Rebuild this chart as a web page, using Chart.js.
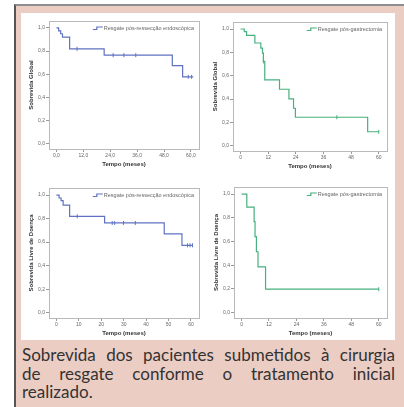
<!DOCTYPE html>
<html lang="pt">
<head>
<meta charset="utf-8">
<title>Sobrevida - cirurgia de resgate</title>
<script src="https://cdn.jsdelivr.net/npm/chart.js@4.4.1/dist/chart.umd.min.js"></script>
<style>
  html, body { margin: 0; padding: 0; background: #fff; }
  body { width: 404px; height: 407px; position: relative; overflow: hidden; }
  #moldura {
    position: absolute; left: 14px; top: 4px; width: 390px; height: 403px;
    background: #eccdc3; border-left: 2px solid #555; border-top: 2px solid #8e8e8e;
    box-sizing: border-box;
  }
  #painel { position: absolute; left: 21px; top: 13px; width: 374px; height: 327px; background: #fff; }
  .graf { position: absolute; }
  #legenda {
    position: absolute; left: 22px; top: 346px; width: 373px;
    font-family: Lato, "Open Sans", sans-serif; font-size: 17px; line-height: 18.5px; color: #333;
  }
  #legenda div { white-space: nowrap; }
  #legenda .just { text-align: justify; text-align-last: justify; }
</style>
</head>
<body>
<div id="moldura"></div>
<div id="painel"></div>
<canvas id="g1" class="graf"></canvas>
<canvas id="g2" class="graf"></canvas>
<canvas id="g3" class="graf"></canvas>
<canvas id="g4" class="graf"></canvas>
<div id="legenda">
  <div class="just">Sobrevida dos pacientes submetidos à cirurgia</div>
  <div class="just">de resgate conforme o tratamento inicial</div>
  <div>realizado.</div>
</div>

<script>
// Sobrevida global - resgate pós-ressecção endoscópica
const tempoSG_end = [0, 1.0, 1.9, 2.7, 5.9, 21.3, 51.7, 56.3, 61.0];
const survSG_end = [1.0, 0.974, 0.95, 0.92, 0.82, 0.765, 0.675, 0.578, 0.578];
const censTSG_end = [9.2, 25.3, 30.1, 35.4, 58.8, 60.3];
const censVSG_end = [0.82, 0.765, 0.765, 0.765, 0.578, 0.578];

// Sobrevida global - resgate pós-gastrectomia
const tempoSG_gas = [0, 1.6, 2.6, 6.2, 8.8, 9.5, 9.9, 10.5, 16.9, 21.0, 23.0, 23.8, 55.2, 60.0];
const survSG_gas = [1.0, 0.977, 0.946, 0.88, 0.837, 0.794, 0.722, 0.564, 0.484, 0.401, 0.321, 0.244, 0.12, 0.12];
const censTSG_gas = [9.9, 41.8, 60.0];
const censVSG_gas = [0.722, 0.244, 0.12];

// Sobrevida livre de doença - resgate pós-ressecção endoscópica
const tempoSLD_end = [0, 1.2, 2.1, 3.0, 5.9, 21.5, 48.1, 56.0, 60.7];
const survSLD_end = [1.0, 0.975, 0.952, 0.915, 0.819, 0.763, 0.67, 0.573, 0.573];
const censTSLD_end = [9.3, 24.9, 26.0, 29.9, 35.2, 58.5, 59.6, 60.7];
const censVSLD_end = [0.819, 0.763, 0.763, 0.763, 0.763, 0.573, 0.573, 0.573];

// Sobrevida livre de doença - resgate pós-gastrectomia
const tempoSLD_gas = [0, 2.3, 5.5, 5.9, 6.5, 7.2, 10.5, 60.0];
const survSLD_gas = [1.0, 0.89, 0.768, 0.641, 0.514, 0.387, 0.198, 0.198];
const censTSLD_gas = [60.0];
const censVSLD_gas = [0.198];

// ticks
const yTicks = [0, 0.2, 0.4, 0.6, 0.8, 1.0];
const xTicks12 = [0, 12, 24, 36, 48, 60];
const xTicks10 = [0, 10, 20, 30, 40, 50, 60];

const azul = "#5f72c2";
const verde = "#46b07e";

// moldura cinza em volta da área do gráfico (estilo SPSS)
const caixaPlugin = {
  id: "caixa",
  afterDraw(chart) {
    const a = chart.chartArea;
    const ctx = chart.ctx;
    ctx.save();
    ctx.strokeStyle = "#b9b9b9";
    ctx.lineWidth = 1;
    ctx.strokeRect(Math.round(a.left) + 0.5, Math.round(a.top) + 0.5,
      Math.round(a.right - a.left), Math.round(a.bottom - a.top));
    ctx.restore();
  }
};

// legenda no canto superior direito, dentro da área do gráfico
const legendaPlugin = {
  id: "legendaSPSS",
  afterDraw(chart) {
    const a = chart.chartArea;
    const ctx = chart.ctx;
    const ds = chart.data.datasets[0];
    ctx.save();
    ctx.font = "5.5px 'Liberation Sans'";
    ctx.fillStyle = "#666";
    ctx.textBaseline = "middle";
    const tw = ctx.measureText(ds.label).width;
    const xt = a.right - 5 - tw;
    const y = a.top + 7;
    ctx.fillText(ds.label, xt, y);
    // amostra em degrau
    ctx.strokeStyle = ds.borderColor;
    ctx.lineWidth = 1.2;
    ctx.beginPath();
    ctx.moveTo(xt - 11, y + 1.5);
    ctx.lineTo(xt - 7, y + 1.5);
    ctx.lineTo(xt - 7, y - 1);
    ctx.lineTo(xt - 1, y - 1);
    ctx.stroke();
    ctx.restore();
  }
};

function montaGrafico(id, area, tempos, surv, censT, censV, cor, rotulo, tituloY, xTicks, fmtX) {
  const canvas = document.getElementById(id);
  const esq = 25, dir = 4, topo = 7, baixo = 22;
  const w = area.right - area.left + esq + dir;
  const h = area.bottom - area.top + topo + baixo;
  canvas.style.left = (area.left - esq) + "px";
  canvas.style.top = (area.top - topo) + "px";
  canvas.style.width = w + "px";
  canvas.style.height = h + "px";
  canvas.width = w;
  canvas.height = h;

  new Chart(canvas.getContext("2d"), {
    type: "line",
    data: {
      datasets: [{
        label: rotulo,
        data: tempos.map((t, i) => ({ x: t, y: surv[i] })),
        borderColor: cor,
        backgroundColor: cor,
        borderWidth: 1.2,
        stepped: true,
        pointRadius: 0,
        fill: false
      }, {
        label: "censurado",
        data: censT.map((t, i) => ({ x: t, y: censV[i] })),
        showLine: false,
        borderColor: cor,
        backgroundColor: cor,
        pointStyle: "line",
        rotation: 90,
        pointRadius: 2,
        borderWidth: 1
      }]
    },
    options: {
      responsive: false,
      animation: false,
      devicePixelRatio: 1,
      layout: { padding: { top: topo, right: dir, left: 0, bottom: 0 } },
      plugins: {
        tooltip: { enabled: false },
        legend: { display: false }
      },
      scales: {
        x: {
          type: "linear",
          min: -3.3,
          max: 63.6,
          afterFit: s => { s.height = baixo; },
          afterBuildTicks: s => { s.ticks = xTicks.map(v => ({ value: v })); },
          grid: { display: true, drawOnChartArea: false, tickLength: 3, color: "#999" },
          border: { color: "#b9b9b9" },
          ticks: {
            padding: 1,
            color: "#666",
            font: { size: 5, family: "Liberation Sans" },
            callback: v => fmtX(v)
          },
          title: {
            display: true,
            text: "Tempo (meses)",
            color: "#333",
            padding: { top: 1, bottom: 3 },
            font: { size: 6, weight: "bold", family: "Liberation Sans" }
          }
        },
        y: {
          type: "linear",
          min: -0.045,
          max: 1.06,
          afterFit: s => { s.width = esq; },
          afterBuildTicks: s => { s.ticks = yTicks.map(v => ({ value: v })); },
          grid: { display: true, drawOnChartArea: false, tickLength: 3, color: "#999" },
          border: { color: "#b9b9b9" },
          ticks: {
            padding: 1,
            color: "#666",
            font: { size: 5, family: "Liberation Sans" },
            callback: v => v.toFixed(1).replace(".", ",")
          },
          title: {
            display: true,
            text: tituloY,
            color: "#333",
            padding: { top: 4, bottom: 1 },
            font: { size: 6, weight: "bold", family: "Liberation Sans" }
          }
        }
      }
    },
    plugins: [caixaPlugin, legendaPlugin]
  });
}

document.addEventListener("DOMContentLoaded", function () {
  const fmtDec = v => v.toFixed(1).replace(".", ",");
  const fmtInt = v => String(v);

  montaGrafico("g1", { left: 49, right: 200, top: 21, bottom: 149 },
    tempoSG_end, survSG_end, censTSG_end, censVSG_end, azul,
    "Resgate pós-ressecção endoscópica", "Sobrevida Global", xTicks12, fmtDec);

  montaGrafico("g2", { left: 233, right: 388, top: 22, bottom: 151 },
    tempoSG_gas, survSG_gas, censTSG_gas, censVSG_gas, verde,
    "Resgate pós-gastrectomia", "Sobrevida Global", xTicks12, fmtInt);

  montaGrafico("g3", { left: 49, right: 200, top: 188, bottom: 318 },
    tempoSLD_end, survSLD_end, censTSLD_end, censVSLD_end, azul,
    "Resgate pós-ressecção endoscópica", "Sobrevida Livre de Doença", xTicks10, fmtInt);

  montaGrafico("g4", { left: 234, right: 388, top: 187, bottom: 318 },
    tempoSLD_gas, survSLD_gas, censTSLD_gas, censVSLD_gas, verde,
    "Resgate pós-gastrectomia", "Sobrevida Livre de Doença", xTicks12, fmtInt);
});
</script>
</body>
</html>
